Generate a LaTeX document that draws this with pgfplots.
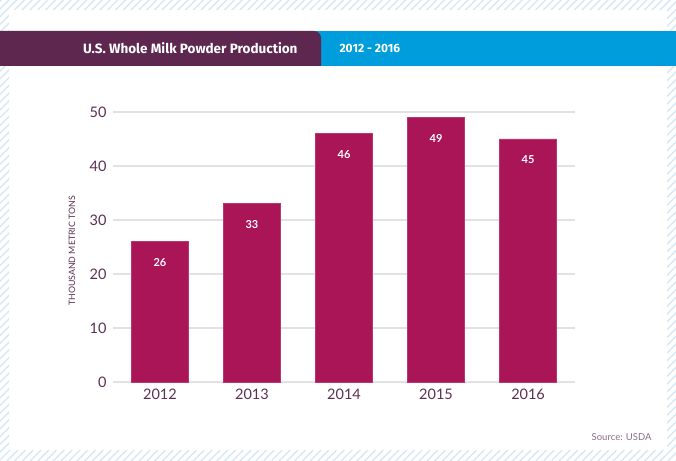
\documentclass[border=0pt]{standalone}
\usepackage{pgfplots}
\pgfplotsset{compat=1.18}
\usepackage{fontspec}
\setmainfont{Lato}
\newfontfamily\titlefont{Fira Sans}
\usetikzlibrary{patterns.meta}
\definecolor{barcol}{RGB}{170,21,88}
\definecolor{hdrpurple}{RGB}{94,39,80}
\definecolor{hdrblue}{RGB}{0,157,220}
\definecolor{ticktext}{RGB}{92,48,82}
\definecolor{gridcol}{RGB}{226,226,228}
\definecolor{hatch}{RGB}{214,232,246}
\begin{document}
\begin{tikzpicture}[x=1pt,y=1pt]
% background with hatch
\fill[white] (0,0) rectangle (676,460);
\fill[pattern={Lines[angle=45,distance=5.5pt,line width=1.4pt]},pattern color=hatch] (0,0) rectangle (676,460);
\fill[white] (9,10) rectangle (667,450);
% header band
\fill[hdrblue] (300,394) rectangle (676,429);
\fill[hdrpurple] (0,394) -- (0,429) -- (314,429) to[out=0,in=90] (321,422) -- (321,394) -- cycle;
\node[anchor=east,text=white,font=\titlefont\bfseries\fontsize{13.5}{16}\selectfont] at (301,412) {U.S. Whole Milk Powder Production};
\node[anchor=west,text=white,font=\titlefont\bfseries\fontsize{12}{14}\selectfont] at (336,411.5) {2012 - 2016};
% y label
\node[rotate=90,text=ticktext,font=\fontsize{8.8}{10}\selectfont] at (72,209) {THOUSAND METRIC TONS};
% source
\node[anchor=east,text=ticktext!70,font=\fontsize{9.5}{11}\selectfont] at (655,23) {Source: USDA};
\begin{axis}[
  at={(113pt,78pt)}, anchor=south west,
  scale only axis, width=462pt, height=270pt,
  ymin=0, ymax=50, xmin=-0.51, xmax=4.51,
  axis line style={draw=none},
  ytick={0,10,20,30,40,50},
  xtick=data,
  xticklabels={2012,2013,2014,2015,2016},
  major tick length=0pt,
  ymajorgrids,
  grid style={gridcol,line width=1.3pt},
  tick label style={text=ticktext,font=\fontsize{14.5}{16}\selectfont},
  /pgf/number format/assume math mode=true,
  yticklabel style={xshift=-3pt},
  xticklabel style={yshift=-3pt},
  ybar, bar width=57pt,
  nodes near coords,
  nodes near coords style={anchor=center,yshift=-21pt,text=white,font=\bfseries\fontsize{11}{13}\selectfont},
  axis on top=false,
  clip=false,
]
\addplot[fill=barcol,draw=barcol!85!white,line width=0.6pt] coordinates {(0,26) (1,33) (2,46) (3,49) (4,45)};
\end{axis}
\end{tikzpicture}
\end{document}
